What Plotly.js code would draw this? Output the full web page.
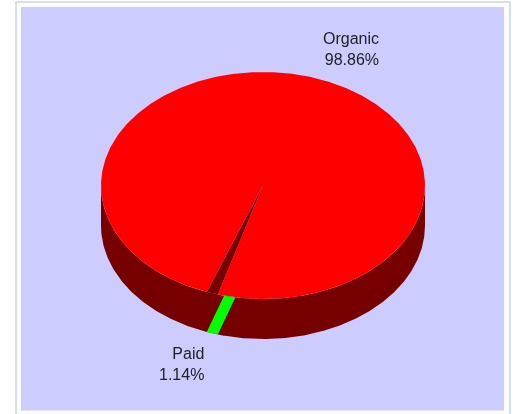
<!DOCTYPE html>
<html>
<head>
<meta charset="utf-8">
<script src="https://cdn.plot.ly/plotly-3.0.1.min.js"></script>
<style>html,body{margin:0;padding:0;background:#fff;overflow:hidden}#chart{width:517px;height:414px;filter:blur(0.35px)}</style>
</head>
<body>
<div id="chart"></div>
<script>
// Data
const categories = ["Organic", "Paid"];
const shares = [98.86, 1.14];
const labels = ["98.86%", "1.14%"];

// Pie drawing settings (pixel space of the canvas axes)
const cx = 263, cy = 185.5, rx = 162, ry = 113.5, depth = 40;
const paidStartDeg = 16.2;   // clockwise from 6 o'clock
const stripSkewDeg = 6.4;
const colors = {organic: "#ff0000", paid: "#00ff00", side: "#760000", panel: "#ccccff", frame: "#d3dfeb"};

const rim = (deg, dy) => {
  const a = deg * Math.PI / 180;
  return [cx - rx * Math.sin(a), cy + dy + ry * Math.cos(a)];
};
const arc = (from, to, dy) => {
  const pts = [], n = Math.max(2, Math.ceil(Math.abs(to - from) * 2));
  for (let i = 0; i <= n; i++) pts.push(rim(from + (to - from) * i / n, dy));
  return pts;
};
const poly = (pts, color) => ({
  type: "scatter", mode: "lines", x: pts.map(p => p[0]), y: pts.map(p => p[1]),
  fill: "toself", fillcolor: color, line: {width: 0}, hoverinfo: "skip", showlegend: false
});

const paidSweep = shares[1] / (shares[0] + shares[1]) * 360;
const paidEnd = paidStartDeg + paidSweep;

const traces = [
  // side wall
  poly([...arc(-90, 90, depth), ...arc(90, -90, 0)], colors.side),
  // Organic top face
  poly([[cx, cy], ...arc(paidEnd, paidStartDeg + 360, 0)], colors.organic),
  // Paid top face
  poly([[cx, cy], ...arc(paidStartDeg, paidEnd, 0)], colors.side),
  // Paid side strip
  poly([...arc(paidStartDeg - stripSkewDeg, paidEnd - stripSkewDeg, 0), ...arc(paidEnd, paidStartDeg, depth)], colors.paid)
];

const font = {family: "Liberation Sans, Arial, sans-serif", size: 16, color: "#222222"};
const layout = {
  width: 517, height: 414,
  margin: {l: 0, r: 0, t: 0, b: 0},
  paper_bgcolor: "#ffffff", plot_bgcolor: "#ffffff",
  showlegend: false,
  xaxis: {range: [0, 517], visible: false, fixedrange: true},
  yaxis: {range: [414, 0], visible: false, fixedrange: true},
  shapes: [
    {type: "rect", layer: "below", x0: 16, x1: 510, y0: 2, y1: 430, line: {color: colors.frame, width: 2}, fillcolor: "#fdfdff"},
    {type: "rect", layer: "below", x0: 21, x1: 504, y0: 7, y1: 410.5, line: {width: 0}, fillcolor: colors.panel}
  ],
  annotations: [
    {xref: "x", yref: "y", x: 381, y: 49, xanchor: "right", yanchor: "middle", align: "right", showarrow: false,
     text: categories[0] + "<br>" + labels[0], font},
    {xref: "x", yref: "y", x: 206, y: 364, xanchor: "right", yanchor: "middle", align: "right", showarrow: false,
     text: categories[1] + "<br>" + labels[1], font}
  ]
};
Plotly.newPlot("chart", traces, layout, {staticPlot: true, displayModeBar: false});
</script>
</body>
</html>
